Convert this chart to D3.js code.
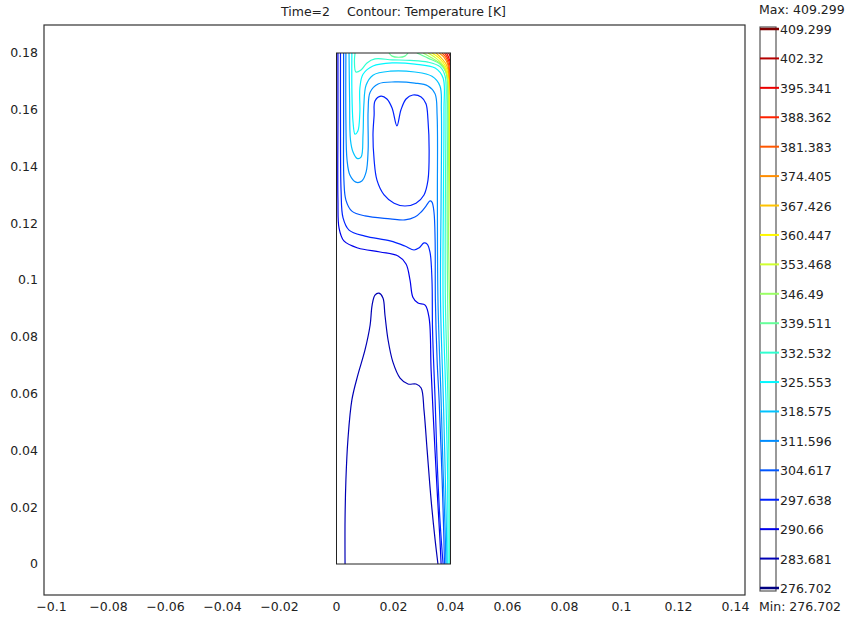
<!DOCTYPE html>
<html>
<head>
<meta charset="utf-8">
<script src="https://cdn.jsdelivr.net/npm/d3@7"></script>
<style>
  body { margin: 0; background: #fff; }
  text { font-family: "DejaVu Sans", sans-serif; font-size: 12.5px; fill: #222; }
</style>
</head>
<body>
<script>
// contour levels [K] (colour legend, bottom to top)
var levels = [276.702, 283.681, 290.66, 297.638, 304.617, 311.596, 318.575, 325.553, 332.532, 339.511,
              346.49, 353.468, 360.447, 367.426, 374.405, 381.383, 388.362, 395.341, 402.32, 409.299];
var tMin = 276.702, tMax = 409.299;

// axis ticks [m]
var xTicks = [-0.1, -0.08, -0.06, -0.04, -0.02, 0, 0.02, 0.04, 0.06, 0.08, 0.1, 0.12, 0.14];
var yTicks = [0, 0.02, 0.04, 0.06, 0.08, 0.1, 0.12, 0.14, 0.16, 0.18];

// cavity outline [m]: x0, y0, x1, y1
var cavity = [0, 0, 0.04, 0.18];

// contour lines, points in mm [x, y]
var c1 = [[3.0,0],[3.0,15.5],[3.3,29.6],[4.0,43.7],[5.4,57.8],[7.5,66.6],[10.0,75.4],[11.8,84.2],[12.5,91.2],[13.5,94.7],[14.9,95.4],[16.3,93.7],[17.0,87.7],[18.1,78.9],[19.8,71.1],[22.3,65.5],[25.1,63.4],[27.9,63.4],[29.7,62.0],[30.7,54.2],[31.8,40.1],[33.2,22.5],[34.6,8.5],[35.6,0]];
var c2 = [[0.5,180],[0.5,156.4],[0.5,128.2],[0.9,118.3],[2.6,113.8],[7.5,111.3],[15.3,109.9],[21.6,108.5],[24.4,105.7],[25.8,100.0],[26.8,94.0],[28.6,91.9],[31.1,91.2],[32.5,86.6],[33.2,68.3],[34.2,47.2],[35.3,26.1],[36.3,8.5],[36.7,0]];
var c3 = [[1.4,180],[1.4,156.4],[1.6,131.7],[2.3,121.9],[4.4,117.6],[10.0,115.5],[18.8,113.8],[24.0,112.0],[27.2,110.6],[28.9,111.3],[30.7,113.1],[31.8,112.7],[32.8,109.9],[33.5,100.0],[33.7,82.4],[34.6,57.8],[35.3,36.6],[36.3,15.5],[37.4,0]];
var heart = [[13.2,158.1],[13.5,163.1],[15.6,164.8],[17.7,163.8],[19.5,160.6],[21.2,154.3],[22.6,159.9],[24.4,163.8],[26.8,165.2],[29.7,164.5],[31.4,162.1],[32.1,156.4],[32.5,145.8],[32.1,135.2],[30.7,130.0],[27.9,127.1],[24.0,126.1],[20.2,127.1],[16.7,130.0],[14.2,135.2],[13.2,142.3],[12.8,151.1]];
var c4 = [[2.5,180],[2.5,156.4],[2.6,135.2],[3.3,128.2],[5.4,124.3],[10.0,122.6],[18.8,121.6],[24.0,121.2],[27.5,122.2],[29.7,124.0],[31.4,126.1],[32.8,127.9],[33.5,127.5],[34.2,124.0],[34.6,114.1],[34.7,93.0],[35.3,71.8],[36.0,57.8],[36.7,40.1],[37.4,19.0],[37.9,0]];
var c5 = [[3.3,180],[3.3,156.4],[3.7,142.3],[4.7,137.0],[6.8,134.5],[8.9,134.9],[10.4,138.1],[11.1,145.8],[11.1,159.8],[11.8,166.2],[14.6,169.1],[20.5,169.8],[27.5,169.4],[32.1,168.4],[34.6,165.6],[35.3,158.1],[35.4,128.2],[35.6,93.0],[36.7,57.8],[37.4,33.1],[38.1,12.0],[38.4,0]];
var c6 = [[4.4,180],[4.6,163.4],[4.9,149.4],[5.8,145.1],[7.2,142.9],[8.6,143.3],[9.3,151.1],[9.6,161.7],[10.4,168.7],[12.8,172.2],[18.8,173.6],[27.5,173.3],[33.5,171.8],[36.3,168.4],[36.8,159.8],[36.7,128.2],[36.5,93.0],[37.5,57.8],[38.2,29.6],[38.8,0]];
var c7 = [[5.4,180],[5.4,166.9],[5.8,155.7],[6.5,151.4],[7.5,152.5],[8.2,159.2],[8.2,167.6],[9.3,172.5],[12.8,175.4],[19.5,176.5],[27.5,176.1],[34.6,174.7],[37.4,171.2],[37.7,159.8],[37.5,128.2],[37.4,93.0],[38.4,57.8],[39.0,29.6],[39.1,0]];
var c8 = [[6.5,180],[6.3,176.8],[6.8,173.3],[8.6,174.0],[10.7,176.5],[13.5,177.9],[19.5,177.6],[25.8,177.4],[32.1,176.8],[36.3,175.2],[38.1,171.9],[38.4,159.8],[38.2,128.2],[38.2,93.0],[39.1,57.8],[39.5,29.6],[39.6,0]];
var c9a = [[18.4,180],[19.5,178.9],[21.9,178.5],[24.0,178.9],[25.1,180]];
var c9b = [[28.2,180],[32.1,178.2],[36.3,176.1],[38.4,173.3],[39.0,159.8],[38.8,128.2],[39.0,93.0],[39.6,57.8],[40,33.1]];
var c10 = [[30.4,180],[33.5,178.2],[37.0,175.8],[38.8,171.9],[39.3,159.8],[39.2,128.2],[39.5,100.0],[40,82.4]];
var c11 = [[32.1,180],[34.9,178.2],[37.7,175.4],[39.1,171.2],[39.6,159.8],[39.7,135.2],[40,114.1]];
var c12 = [[33.5,180],[36.0,178.2],[38.2,175.4],[39.5,170.5],[39.8,156.4],[40,138.8]];
var c13 = [[34.9,180],[36.8,178.2],[38.6,175.8],[39.7,170.5],[40,156.4]];
var c14 = [[36.0,180],[37.6,178.6],[39.0,176.1],[39.6,171.5],[40,165.2]];
var c15 = [[37.0,180],[38.3,178.6],[39.3,176.1],[40,170.5]];
var c16 = [[37.9,180],[38.8,178.6],[39.6,176.5],[40,174.0]];
var c17 = [[38.6,180],[39.3,178.6],[40,176.5]];
var c18 = [[39.3,180],[39.7,179.3],[40,178.2]];

var contours = [
  {lev: 1, pts: c1}, {lev: 2, pts: c2}, {lev: 3, pts: c3}, {lev: 3, pts: heart, closed: true},
  {lev: 4, pts: c4}, {lev: 5, pts: c5}, {lev: 6, pts: c6}, {lev: 7, pts: c7}, {lev: 8, pts: c8},
  {lev: 9, pts: c9a}, {lev: 9, pts: c9b}, {lev: 10, pts: c10}, {lev: 11, pts: c11}, {lev: 12, pts: c12},
  {lev: 13, pts: c13}, {lev: 14, pts: c14}, {lev: 15, pts: c15}, {lev: 16, pts: c16},
  {lev: 17, pts: c17}, {lev: 18, pts: c18}
];

// layout
var W = 853, H = 621;
var frame = {l: 44, r: 745, t: 25, b: 595};

var svg = d3.select("body").append("svg")
  .attr("width", W).attr("height", H);

var x = d3.scaleLinear().domain([-0.1, 0.14]).range([51.5, 735.5]);
var y = d3.scaleLinear().domain([0, 0.18]).range([564, 53]);

// jet colour map
function jet(t) {
  function c(v) { return Math.max(0, Math.min(1, v)) * 255; }
  return d3.rgb(c(1.5 - Math.abs(4 * t - 3)), c(1.5 - Math.abs(4 * t - 2)), c(1.5 - Math.abs(4 * t - 1))).toString();
}
function levColor(v) { return jet((v - tMin) / (tMax - tMin)); }

// plot frame
svg.append("rect")
  .attr("x", frame.l).attr("y", frame.t)
  .attr("width", frame.r - frame.l).attr("height", frame.b - frame.t)
  .attr("fill", "none").attr("stroke", "#333").attr("stroke-width", 1.2);

// tick labels
var fmt = d3.format("~g");
svg.append("g").selectAll("text").data(xTicks).enter().append("text")
  .attr("x", function(d) { return x(d); })
  .attr("y", frame.b + 16)
  .attr("text-anchor", "middle")
  .text(fmt);
svg.append("g").selectAll("text").data(yTicks).enter().append("text")
  .attr("x", frame.l - 6)
  .attr("y", function(d) { return y(d); })
  .attr("dy", "0.35em")
  .attr("text-anchor", "end")
  .text(fmt);

// title
svg.append("text").attr("x", 281).attr("y", 16).text("Time=2");
svg.append("text").attr("x", 347).attr("y", 16).text("Contour: Temperature [K]");

// clip to cavity
svg.append("clipPath").attr("id", "cav").append("rect")
  .attr("x", x(cavity[0])).attr("y", y(cavity[3]))
  .attr("width", x(cavity[2]) - x(cavity[0])).attr("height", y(cavity[1]) - y(cavity[3]));

var line = d3.line()
  .x(function(d) { return x(d[0] / 1000); })
  .y(function(d) { return y(d[1] / 1000); })
  .curve(d3.curveCatmullRom.alpha(0.5));
var lineClosed = d3.line()
  .x(function(d) { return x(d[0] / 1000); })
  .y(function(d) { return y(d[1] / 1000); })
  .curve(d3.curveCatmullRomClosed.alpha(0.5));

svg.append("g").attr("clip-path", "url(#cav)")
  .selectAll("path").data(contours).enter().append("path")
  .attr("d", function(d) { return d.closed ? lineClosed(d.pts) : line(d.pts); })
  .attr("fill", "none")
  .attr("stroke", function(d) { return levColor(levels[d.lev]); })
  .attr("stroke-width", 1.2);

// cavity outline
svg.append("rect")
  .attr("x", x(cavity[0])).attr("y", y(cavity[3]))
  .attr("width", x(cavity[2]) - x(cavity[0])).attr("height", y(cavity[1]) - y(cavity[3]))
  .attr("fill", "none").attr("stroke", "#222").attr("stroke-width", 1);

// colour legend
var cb = d3.scaleLinear().domain([tMin, tMax]).range([588, 29]);
svg.append("rect")
  .attr("x", 760).attr("y", 27).attr("width", 16).attr("height", 564)
  .attr("fill", "none").attr("stroke", "#555").attr("stroke-width", 1.2);
svg.append("g").selectAll("line").data(levels).enter().append("line")
  .attr("x1", 760).attr("x2", 779)
  .attr("y1", function(d) { return cb(d); })
  .attr("y2", function(d) { return cb(d); })
  .attr("stroke", function(d) { return levColor(d); })
  .attr("stroke-width", function(d, i) { return (i == 0 || i == levels.length - 1) ? 2.5 : 2; });
svg.append("g").selectAll("text").data(levels).enter().append("text")
  .attr("x", 780)
  .attr("y", function(d) { return cb(d); })
  .attr("dy", "0.4em")
  .text(function(d) { return d; });
svg.append("text").attr("x", 759).attr("y", 14).text("Max: " + tMax);
svg.append("text").attr("x", 759).attr("y", 611).text("Min: " + tMin);
</script>
</body>
</html>
